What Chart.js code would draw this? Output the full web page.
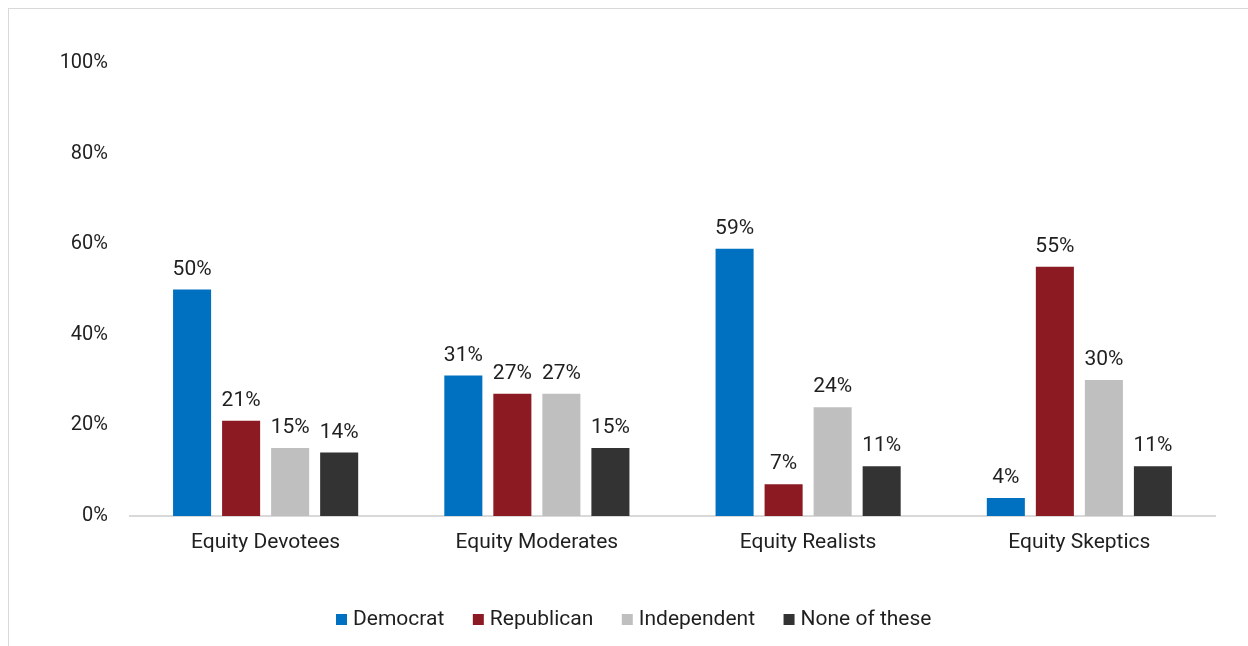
<!DOCTYPE html>
<html>
<head>
<meta charset="utf-8">
<script src="https://cdn.jsdelivr.net/npm/chart.js@4/dist/chart.umd.min.js"></script>
<style>
  html, body { margin: 0; padding: 0; background: #ffffff; }
  body { width: 1248px; height: 646px; position: relative; overflow: hidden; }
  #frame { position: absolute; left: 8px; top: 8px; width: 1400px; height: 800px; border: 1px solid #d9d9d9; box-sizing: border-box; }
  #wrap { position: absolute; left: 0; top: 0; width: 1248px; height: 646px; }
</style>
</head>
<body>
<div id="frame"></div>
<div id="wrap"><canvas id="chart" width="1248" height="646"></canvas></div>
<script>
// Segments and party shares (percent)
const segments = ["Equity Devotees", "Equity Moderates", "Equity Realists", "Equity Skeptics"];
const democrat = [50, 31, 59, 4];
const republican = [21, 27, 7, 55];
const independent = [15, 27, 24, 30];
const noneOfThese = [14, 15, 11, 11];
const yTicks = [0, 20, 40, 60, 80, 100];

const seriesNames = ["Democrat", "Republican", "Independent", "None of these"];
const seriesColors = ["#0070C0", "#8B1A22", "#BFBFBF", "#333333"];
const seriesData = [democrat, republican, independent, noneOfThese];

const FONT = "Roboto, 'Liberation Sans', sans-serif";
const TEXT = "#1f1f1f";

// Draws the percentage above each bar
const valueLabels = {
  id: "valueLabels",
  afterDatasetsDraw(chart) {
    const ctx = chart.ctx;
    ctx.save();
    ctx.font = "21px " + FONT;
    ctx.fillStyle = TEXT;
    ctx.textAlign = "center";
    ctx.textBaseline = "alphabetic";
    chart.data.datasets.forEach((ds, i) => {
      chart.getDatasetMeta(i).data.forEach((bar, j) => {
        ctx.fillText(ds.data[j] + "%", bar.x, bar.y - 15);
      });
    });
    ctx.restore();
  }
};

new Chart(document.getElementById("chart"), {
  type: "bar",
  data: {
    labels: segments,
    datasets: seriesData.map((d, i) => ({
      label: seriesNames[i],
      data: d,
      backgroundColor: seriesColors[i],
      borderWidth: 0,
      pointStyle: "rect",
      categoryPercentage: 0.723,
      barPercentage: 0.776
    }))
  },
  options: {
    responsive: false,
    animation: false,
    layout: { padding: { top: 63, left: 57, right: 33, bottom: 6 } },
    plugins: {
      tooltip: { enabled: false },
      legend: {
        position: "bottom",
        labels: {
          usePointStyle: true,
          boxWidth: 2,
          boxHeight: 11,
          padding: 33,
          color: TEXT,
          font: { family: FONT, size: 21 }
        }
      }
    },
    scales: {
      x: {
        grid: { display: false, drawTicks: false },
        border: { display: true, color: "#d9d9d9", width: 2 },
        ticks: { color: TEXT, font: { family: FONT, size: 21 }, padding: 14 },
        afterFit(scale) { scale.height = 60; }
      },
      y: {
        min: 0,
        max: 100,
        afterBuildTicks(scale) { scale.ticks = yTicks.map(v => ({ value: v })); },
        grid: { display: false, drawTicks: false },
        border: { display: false },
        ticks: {
          color: TEXT,
          font: { family: FONT, size: 20 },
          padding: 22,
          callback: v => v + "%"
        },
        afterFit(scale) { scale.width = 73; }
      }
    }
  },
  plugins: [valueLabels]
});
</script>
</body>
</html>
